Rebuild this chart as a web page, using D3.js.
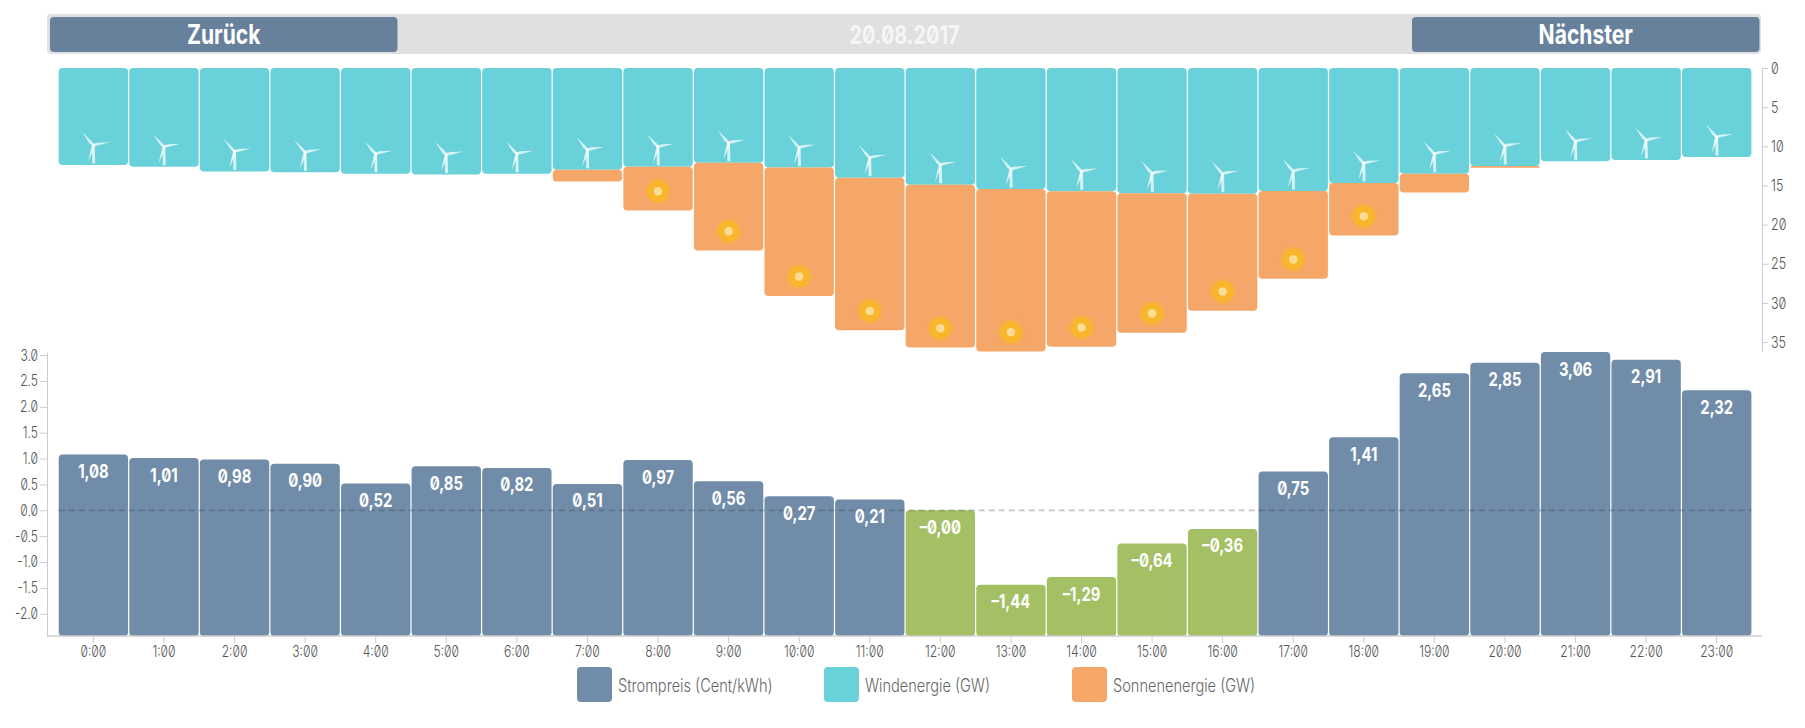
<!DOCTYPE html>
<html>
<head>
<meta charset="utf-8">
<script src="https://cdn.jsdelivr.net/npm/d3@7"></script>
<style>
  html, body { margin: 0; padding: 0; background: #fff; }
  svg { display: block; }
  text { font-family: Inter, "Noto Sans", sans-serif; font-feature-settings: "zero" 1; }
  .tick text { font-weight: 300; fill: #555; }
</style>
</head>
<body>
<svg width="1805" height="728"></svg>
<script>
var hours = ['0:00','1:00','2:00','3:00','4:00','5:00','6:00','7:00','8:00','9:00','10:00','11:00',
  '12:00','13:00','14:00','15:00','16:00','17:00','18:00','19:00','20:00','21:00','22:00','23:00'];

var price = [1.08,1.01,0.98,0.90,0.52,0.85,0.82,0.51,0.97,0.56,0.27,0.21,
  -0.00,-1.44,-1.29,-0.64,-0.36,0.75,1.41,2.65,2.85,3.06,2.91,2.32];
var priceLabels = ['1,08','1,01','0,98','0,90','0,52','0,85','0,82','0,51','0,97','0,56','0,27','0,21',
  '–0,00','–1,44','–1,29','–0,64','–0,36','0,75','1,41','2,65','2,85','3,06','2,91','2,32'];

var wind = [12.4,12.6,13.2,13.3,13.5,13.6,13.5,13.0,12.6,12.1,12.7,14.0,
  14.9,15.45,15.75,16.0,16.05,15.7,14.7,13.5,12.5,11.9,11.75,11.35];
var solar = [0,0,0,0,0,0,0,1.5,5.6,11.2,16.4,19.5,
  20.8,20.75,19.85,17.8,14.95,11.2,6.7,2.4,0.25,0,0,0];

var priceTicks = [-2,-1.5,-1,-0.5,0,0.5,1,1.5,2,2.5,3];
var energyTicks = [0,5,10,15,20,25,30,35];
var legendNames = ['Strompreis (Cent/kWh)','Windenergie (GW)','Sonnenenergie (GW)'];
var dateLabel = '20.08.2017';

var colors = { price: '#718ca9', neg: '#a3c164', wind: '#69d1d9', solar: '#f4a769', button: '#67809b' };
var narrow = 0.78;   // the installed fonts are all wider than the original one

var svg = d3.select('svg');

var x = d3.scaleBand().domain(hours).range([58.7, 1751.4]).paddingInner(0.017).paddingOuter(0);
var yEnergy = d3.scaleLinear().domain([0, 36.2]).range([68, 351.5]);
var yPrice = d3.scaleLinear().domain([-2.43, 3.06]).range([636, 352]);

var axisLeftX = 47, axisRightX = 1762;

function squeeze(sel, tx, ty) {
  sel.attr('transform', function() {
    return 'translate(' + (tx || 0) + ',' + (ty || 0) + ') scale(' + narrow + ',1)';
  });
}

// header
svg.append('rect').attr('x', 47).attr('y', 14).attr('width', 1714).attr('height', 40)
  .attr('rx', 4).attr('fill', '#e0e0e0');
[[50, 'Zurück'], [1412, 'Nächster']].forEach(function(b) {
  svg.append('rect').attr('x', b[0]).attr('y', 17).attr('width', 347.5).attr('height', 35)
    .attr('rx', 4).attr('fill', colors.button);
  svg.append('text').attr('text-anchor', 'middle').attr('font-size', 27).attr('font-weight', 700)
    .attr('fill', '#fff').text(b[1])
    .call(squeeze, b[0] + 173.7, 44);
});
svg.append('text').attr('text-anchor', 'middle').attr('font-size', 25.5).attr('font-weight', 700)
  .attr('fill', '#f6f6f6').text(dateLabel)
  .call(squeeze, 904.5, 44);

// icons
var defs = svg.append('defs');
var turbine = defs.append('g').attr('id', 'turbine').attr('fill', '#fff').attr('fill-opacity', 0.72);
turbine.append('path').attr('d', 'M-1.4,0L-1.2,18.5L1.8,18.5L1.4,0Z');
[[-41, 16.6], [80, 16.8], [198, 17.4]].forEach(function(b) {
  turbine.append('path')
    .attr('d', 'M-1.2,1L-1.8,-4L0,' + (-b[1]) + 'L1.1,-4L1.2,1Z')
    .attr('transform', 'rotate(' + b[0] + ')');
});

var rays = d3.range(96).map(function(i) {
  return [i * Math.PI / 48, i % 2 ? 10 : 14.5];
});
var sun = defs.append('g').attr('id', 'sun');
sun.append('path').attr('d', d3.lineRadial().curve(d3.curveLinearClosed)(rays)).attr('fill', '#f9b62b').attr('opacity', 0.7);
sun.append('circle').attr('r', 10.5).attr('fill', '#f9b62b');
sun.append('circle').attr('r', 4.3).attr('fill', '#fbdc95');

// upper chart, wind and sun hang down from 0
svg.append('g').selectAll('rect').data(hours).enter().append('rect')
  .attr('x', function(d) { return x(d); })
  .attr('y', yEnergy(0))
  .attr('width', x.bandwidth())
  .attr('height', function(d, i) { return yEnergy(wind[i]) - yEnergy(0); })
  .attr('rx', 4)
  .attr('fill', colors.wind);

svg.append('g').selectAll('rect').data(hours).enter().append('rect')
  .filter(function(d, i) { return solar[i] > 0; })
  .attr('x', function(d) { return x(d); })
  .attr('y', function(d) { return yEnergy(wind[hours.indexOf(d)]); })
  .attr('width', x.bandwidth())
  .attr('height', function(d) { var i = hours.indexOf(d); return yEnergy(wind[i] + solar[i]) - yEnergy(wind[i]); })
  .attr('rx', function(d) { return solar[hours.indexOf(d)] < 0.5 ? 1 : 4; })
  .attr('fill', colors.solar);

svg.append('g').selectAll('use').data(hours).enter().append('use')
  .attr('href', '#turbine')
  .attr('x', function(d) { return x(d) + x.bandwidth() / 2; })
  .attr('y', function(d, i) { return yEnergy(wind[i]) - 20; });

svg.append('g').selectAll('use').data(hours).enter().append('use')
  .filter(function(d, i) { return solar[i] > 5; })
  .attr('href', '#sun')
  .attr('x', function(d) { return x(d) + x.bandwidth() / 2; })
  .attr('y', function(d) { var i = hours.indexOf(d); return yEnergy(wind[i] + solar[i]) - 19.3; });

var rightAxis = svg.append('g').attr('transform', 'translate(' + axisRightX + ',0)')
  .call(d3.axisRight(yEnergy).tickValues(energyTicks).tickSize(6).tickSizeOuter(0));
rightAxis.selectAll('path, line').attr('stroke', '#ccc');
rightAxis.selectAll('text').attr('font-size', 16).attr('x', 0)
  .attr('text-anchor', 'start').call(function(s) {
    s.attr('transform', 'translate(9,0) scale(' + narrow + ',1)');
  });

// lower chart, every bar stands on the bottom of the axis
svg.append('g').selectAll('rect').data(hours).enter().append('rect')
  .attr('x', function(d) { return x(d); })
  .attr('y', function(d, i) { return yPrice(price[i]); })
  .attr('width', x.bandwidth())
  .attr('height', function(d, i) { return yPrice.range()[0] - yPrice(price[i]); })
  .attr('rx', 4)
  .attr('fill', function(d, i) { return (i >= 12 && price[i] <= 0) ? colors.neg : colors.price; });

svg.append('line')
  .attr('x1', x.range()[0]).attr('x2', x.range()[1])
  .attr('y1', yPrice(0)).attr('y2', yPrice(0))
  .attr('stroke', '#333').attr('stroke-opacity', 0.28)
  .attr('stroke-width', 1.8).attr('stroke-dasharray', '6 4');

svg.append('g').selectAll('text').data(hours).enter().append('text')
  .attr('text-anchor', 'middle')
  .attr('font-size', 19).attr('font-weight', 700).attr('fill', '#fff')
  .text(function(d, i) { return priceLabels[i]; })
  .attr('transform', function(d, i) {
    return 'translate(' + (x(d) + x.bandwidth() / 2) + ',' + (yPrice(price[i]) + 23.5) + ') scale(' + narrow + ',1)';
  });

var leftAxis = svg.append('g').attr('transform', 'translate(' + axisLeftX + ',0)')
  .call(d3.axisLeft(yPrice).tickValues(priceTicks).tickSize(7).tickSizeOuter(0)
    .tickFormat(function(d) { return d.toFixed(1); }));
leftAxis.selectAll('path, line').attr('stroke', '#ccc');
leftAxis.selectAll('text').attr('font-size', 15.5).attr('x', 0)
  .attr('transform', 'translate(-9,0) scale(' + narrow + ',1)');

var bottomAxis = svg.append('g').attr('transform', 'translate(0,636)')
  .call(d3.axisBottom(x).tickSize(7).tickSizeOuter(0));
bottomAxis.select('.domain').remove();
bottomAxis.selectAll('line').attr('stroke', '#ccc');
bottomAxis.selectAll('text').attr('font-size', 15.5).attr('y', 0).attr('dy', 0)
  .attr('transform', 'translate(0,20.5) scale(' + narrow + ',1)');
svg.append('line').attr('x1', axisLeftX).attr('x2', axisRightX).attr('y1', 636).attr('y2', 636)
  .attr('stroke', '#ccc').attr('stroke-width', 1.4);

// legend
var legendX = [577, 824, 1072];
var legendFill = [colors.price, colors.wind, colors.solar];
legendNames.forEach(function(name, i) {
  svg.append('rect').attr('x', legendX[i]).attr('y', 667).attr('width', 35).attr('height', 35)
    .attr('rx', 4).attr('fill', legendFill[i]);
  svg.append('text').attr('font-size', 18).attr('font-weight', 300).attr('fill', '#666').text(name)
    .attr('transform', 'translate(' + (legendX[i] + 41) + ',692) scale(0.81,1)');
});
</script>
</body>
</html>
